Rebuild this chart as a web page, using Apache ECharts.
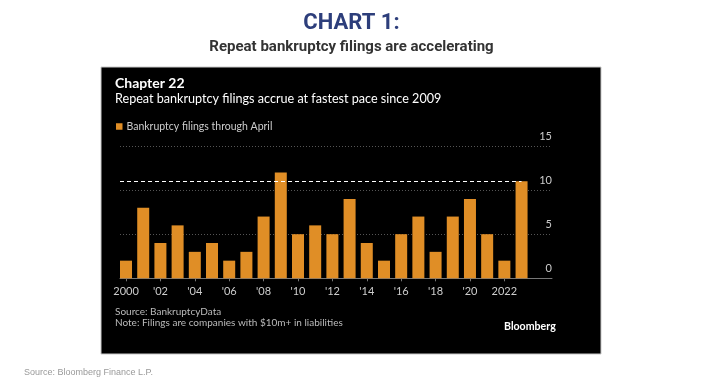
<!DOCTYPE html>
<html>
<head>
<meta charset="utf-8">
<style>
html,body{margin:0;padding:0;background:#fff;}
#chart{width:703px;height:389px;}
</style>
<script src="https://cdn.jsdelivr.net/npm/echarts@6/dist/echarts.min.js"></script>
</head>
<body>
<div id="chart"></div>
<script>
const years = [2000,2001,2002,2003,2004,2005,2006,2007,2008,2009,2010,2011,2012,2013,2014,2015,2016,2017,2018,2019,2020,2021,2022,2023];
const filings = [2,8,4,6,3,4,2,3,7,12,5,6,5,9,4,2,5,7,3,7,9,5,2,11];
const tickYears = [2000,2002,2004,2006,2008,2010,2012,2014,2016,2018,2020,2022];
const tickLabels = ['2000',"'02","'04","'06","'08","'10","'12","'14","'16","'18","'20",'2022'];
const yTicks = [0,5,10,15];
const refLevel = 11;

const chart = echarts.init(document.getElementById('chart'), null, {renderer:'canvas'});
const bodyFont = 'Lato';
chart.setOption({
  backgroundColor:'#ffffff',
  animation:false,
  graphic:[
    {type:'rect', z:-100, shape:{x:101,y:67,width:500,height:287}, style:{fill:'#000000', stroke:'#c8c8c8', lineWidth:1}},
    {type:'text', left:'center', top:12, style:{text:'CHART 1:', fill:'#2d3e7b', font:'bold 22px Roboto'}},
    {type:'text', left:'center', top:40, style:{text:'Repeat bankruptcy filings are accelerating', fill:'#333333', font:'bold 15px Roboto'}},
    {type:'text', left:115, top:76, style:{text:'Chapter 22', fill:'#ffffff', font:'bold 14px '+bodyFont}},
    {type:'text', left:115, top:92, style:{text:'Repeat bankruptcy filings accrue at fastest pace since 2009', fill:'#ffffff', font:'12.6px '+bodyFont}},
    {type:'text', left:115, top:307, style:{text:'Source: BankruptcyData', fill:'#bbbbbb', font:'10px '+bodyFont}},
    {type:'text', left:115, top:318, style:{text:'Note: Filings are companies with $10m+ in liabilities', fill:'#bbbbbb', font:'10px '+bodyFont}},
    {type:'text', left:504, top:321, style:{text:'Bloomberg', fill:'#ffffff', font:'bold 10.6px '+bodyFont}},
    {type:'text', left:24, top:368, style:{text:'Source: Bloomberg Finance L.P.', fill:'#999999', font:'9px Arial'}}
  ],
  legend:{
    left:116, top:121, padding:0, icon:'rect', itemWidth:6.5, itemHeight:6.5, itemGap:6,
    textStyle:{color:'#cccccc', fontSize:10.5, fontFamily:bodyFont, padding:[0,0,0,-1]},
    data:['Bankruptcy filings through April']
  },
  grid:{left:120, top:146, width:432, height:132.3, containLabel:false},
  xAxis:{
    type:'value', min:1999.65, max:2024.77,
    splitLine:{show:false},
    axisLine:{show:true, onZero:false, lineStyle:{color:'#777777', width:1}},
    axisTick:{show:true, length:3, lineStyle:{color:'#777777'}, customValues:tickYears},
    axisLabel:{color:'#cccccc', fontSize:11, fontFamily:bodyFont, margin:8, customValues:tickYears,
      formatter:function(v){const i=tickYears.indexOf(Math.round(v)); return i>=0?tickLabels[i]:'';}}
  },
  yAxis:{
    type:'value', position:'right', min:0, max:15, interval:5,
    axisLine:{show:false}, axisTick:{show:false},
    splitLine:{show:true, lineStyle:{color:'#555555', type:[1,2], width:1}},
    axisLabel:{inside:true, margin:0, color:'#cccccc', fontSize:11, fontFamily:bodyFont, verticalAlign:'bottom', padding:[0,0,4,0]}
  },
  series:[{
    name:'Bankruptcy filings through April',
    type:'bar',
    barWidth:12,
    itemStyle:{color:'#e08e26'},
    data:years.map((y,i)=>[y,filings[i]]),
    markLine:{
      silent:true, symbol:'none', label:{show:false},
      lineStyle:{color:'#ffffff', type:[4,3], width:1.2},
      data:[[{coord:[1999.65,refLevel]},{coord:[years[years.length-1],refLevel]}]]
    }
  }]
});
</script>
</body>
</html>
